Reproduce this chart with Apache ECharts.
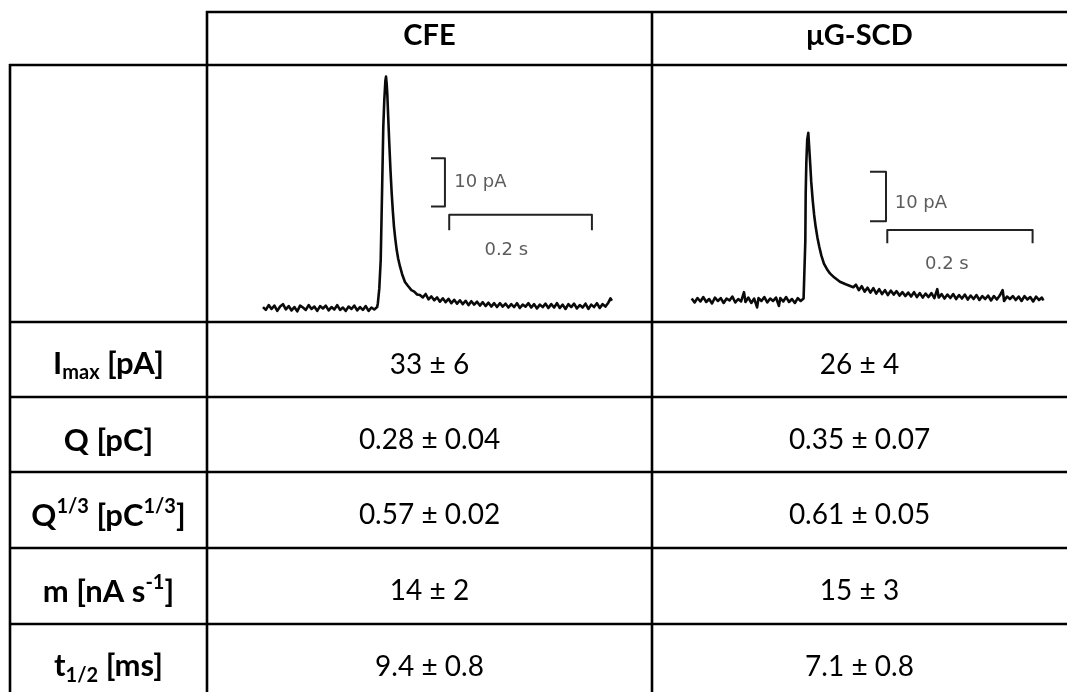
<!DOCTYPE html>
<html>
<head>
<meta charset="utf-8">
<script src="https://cdn.jsdelivr.net/npm/echarts@6/dist/echarts.min.js"></script>
<style>
  html, body { margin: 0; padding: 0; background: #fff; }
  #main { width: 1067px; height: 692px; }
</style>
</head>
<body>
<div id="main"></div>
<script>
// table content
const columns = ['CFE', 'μG-SCD']
const rowLabels = [
  '{b|I}{sub|max}{b| [pA]}',
  '{b|Q [pC]}',
  '{b|Q}{sup|1/3}{b| [pC}{sup|1/3}{b|]}',
  '{b|m [nA s}{sup|-1}{b|]}',
  '{b|t}{sub|1/2}{b| [ms]}'
]
const cfeValues = ['33 ± 6', '0.28 ± 0.04', '0.57 ± 0.02', '14 ± 2', '9.4 ± 0.8']
const scdValues = ['26 ± 4', '0.35 ± 0.07', '0.61 ± 0.05', '15 ± 3', '7.1 ± 0.8']

// example amperometric spikes, [time ms, current pA]
const cfeTrace = [
  [0, 0.2], [4, -0.4], [8, 0.6], [12, -0.2], [16, 0.5], [20, -0.6], [24, 0.3], [28, 0.8],
  [32, -0.3], [36, 0.4], [40, -0.5], [44, 0.2], [48, -0.7], [52, 0.5], [56, 0.1], [60, -0.4],
  [64, 0.6], [68, -0.2], [72, 0.3], [76, -0.6], [80, 0.4], [84, -0.1], [88, 0.5], [92, -0.5],
  [96, 0.2], [100, -0.3], [104, 0.6], [108, -0.4], [112, 0.1], [116, -0.6], [120, 0.3], [124, -0.2],
  [128, 0.5], [132, -0.5], [136, 0.2], [140, -0.4], [144, 0.4], [148, -0.6], [152, 0.1], [156, -0.3],
  [160, 0.2], [161, 1.0], [163, 4], [165, 10], [167, 25], [168.6, 37.5], [170, 43], [171.5, 47],
  [172.4, 47.9], [173.3, 46.5], [174.2, 44.4], [175.5, 39.5], [177, 34.1], [178.7, 28.5], [180.4, 23.7],
  [182, 20], [183.6, 16.8], [185.5, 14.2], [187.4, 12.0], [189.5, 10.2], [192, 8.6], [195, 7.0],
  [199, 5.4], [203, 4.6], [208, 3.7], [212, 3.4], [216, 2.8], [220, 2.7], [224, 2.2], [228, 2.9],
  [232, 1.8], [236, 2.4], [240, 1.6], [244, 2.2], [248, 1.3], [252, 2.0], [256, 1.2], [260, 1.9],
  [264, 1.0], [268, 1.7], [272, 0.9], [276, 1.6], [280, 0.8], [284, 1.5], [288, 0.6], [292, 1.4],
  [296, 0.7], [300, 1.3], [304, 0.5], [308, 1.2], [312, 0.4], [316, 1.1], [320, 0.3], [324, 1.0],
  [328, 0.2], [332, 1.0], [336, 0.3], [340, 0.9], [344, 0.1], [348, 0.8], [352, 0.2], [356, 1.0],
  [360, 0.0], [364, 0.7], [368, 0.3], [372, 1.0], [376, 0.1], [380, 0.8], [384, -0.1], [388, 0.7],
  [392, 0.2], [396, 0.9], [400, 0.0], [404, 0.8], [408, 0.1], [412, 1.0], [416, 0.0], [420, 0.7],
  [424, -0.2], [428, 0.8], [432, 0.2], [436, 0.9], [440, -0.1], [444, 0.6], [448, 0.1], [452, 0.9],
  [456, -0.2], [460, 0.7], [464, 0.2], [468, 1.0], [472, 0.0], [476, 0.8], [480, 0.3], [484, 1.1],
  [487, 2.0], [489, 1.5]
]
const scdTrace = [
  [0, 0.3], [4, -0.5], [8, 0.4], [12, -0.3], [16, 0.6], [20, -0.4], [24, 0.2], [28, -0.7],
  [32, 0.5], [36, -0.2], [40, 0.4], [44, -0.6], [48, 0.3], [52, -0.1], [56, 0.7], [60, -0.5],
  [64, 0.2], [68, -0.3], [72, 1.6], [74, -0.4], [78, 0.5], [82, -0.6], [86, 0.3], [90, -1.5],
  [92, 0.4], [96, -0.2], [100, 0.6], [104, -0.5], [108, 0.3], [112, -0.2], [116, 0.5], [120, -1.2],
  [122, 0.4], [126, -0.3], [130, 0.6], [134, -0.4], [138, 0.2], [142, -0.6], [146, 0.4], [150, -0.2],
  [154, 0.3], [155.9, 0.5], [156.4, 12], [156.9, 21.6], [157.8, 28], [159, 32.5], [160.5, 33.9],
  [161.5, 31.5], [162.8, 28.4], [164.5, 24], [166.5, 20.3], [168.5, 17.3], [170.6, 14.9], [173, 12.7],
  [175.6, 10.8], [178.5, 9.0], [182, 7.4], [186, 6.3], [190.3, 5.4], [196, 4.6], [204, 3.7],
  [212, 3.2], [222.4, 2.6], [226, 3.1], [230, 2.0], [234, 2.8], [238, 1.7], [242, 2.5], [246, 1.5],
  [250, 2.4], [254, 1.3], [258, 2.2], [262, 1.2], [266, 2.0], [270, 1.0], [274, 1.9], [278, 1.1],
  [282, 1.8], [286, 0.9], [290, 1.6], [294, 0.8], [298, 1.5], [302, 0.7], [306, 1.6], [310, 0.6],
  [314, 1.4], [318, 0.5], [322, 1.3], [326, 0.6], [330, 1.4], [334, 0.4], [338, 2.2], [340, 0.5],
  [344, 1.2], [348, 0.3], [352, 1.1], [356, 0.4], [360, 1.2], [364, 0.2], [368, 1.0], [372, 0.3],
  [376, 1.1], [380, 0.1], [384, 0.9], [388, 0.2], [392, 1.0], [396, 0.0], [400, 0.8], [404, 0.2],
  [408, 0.9], [412, -0.1], [416, 0.8], [420, 0.1], [424, 0.9], [428, 2.0], [430, -0.2], [434, 0.7],
  [438, 0.2], [442, 0.8], [446, 0.0], [450, 0.7], [454, -0.2], [458, 0.8], [462, 0.1], [466, 0.6],
  [470, -0.3], [474, 0.7], [478, 0.0], [482, 0.5], [484, -0.1]
]

// scale bars: 10 pA, 0.2 s; anchors are [time ms, current pA] of the bar corners
const barPA = 10
const barMs = 200
const cfeBarV = [255, 21]
const cfeBarH = [261, 19.3]
const scdBarV = [267.4, 16]
const scdBarH = [269.2, 14.2]

// layout (px)
const colX = [10, 207, 652, 1067]
const rowY = [12, 65, 322, 397, 472, 548, 624, 700]
const lineW = 2.6

const chart = echarts.init(document.getElementById('main'))

function bracketV (a, cap) {
  return [[a[0] - cap, a[1] + barPA], [a[0], a[1] + barPA], [a[0], a[1]], [a[0] - cap, a[1]]]
}
function bracketH (a, tick) {
  return [[a[0], a[1] - tick], [a[0], a[1]], [a[0] + barMs, a[1]], [a[0] + barMs, a[1] - tick]]
}

function lineSeries (idx, data, color, width) {
  return {
    type: 'line',
    xAxisIndex: idx,
    yAxisIndex: idx,
    data: data,
    showSymbol: false,
    silent: true,
    clip: false,
    lineStyle: { color: color, width: width, join: 'round' },
    animation: false
  }
}

function textSeries (idx, point, text, pos) {
  return {
    type: 'scatter',
    xAxisIndex: idx,
    yAxisIndex: idx,
    symbolSize: 0,
    silent: true,
    animation: false,
    data: [point],
    label: {
      show: true,
      position: pos,
      distance: 0,
      formatter: text,
      fontFamily: 'DejaVu Sans',
      fontSize: 18,
      color: '#333'
    }
  }
}

const option = {
  backgroundColor: '#fff',
  grid: [
    { left: 263, top: 66.5, width: 349.6, height: 256 },
    { left: 691.7, top: 102.8, width: 356, height: 212 }
  ],
  xAxis: [
    { gridIndex: 0, type: 'value', min: 0, max: 490, show: false },
    { gridIndex: 1, type: 'value', min: 0, max: 490, show: false }
  ],
  yAxis: [
    { gridIndex: 0, type: 'value', min: -3, max: 50, show: false },
    { gridIndex: 1, type: 'value', min: -3, max: 40, show: false }
  ],
  series: [
    lineSeries(0, cfeTrace, '#0a0a0a', 2.6),
    lineSeries(1, scdTrace, '#0a0a0a', 2.6),
    lineSeries(0, bracketV(cfeBarV, 19.5), '#222', 2),
    lineSeries(0, bracketH(cfeBarH, 3.2), '#222', 2),
    lineSeries(1, bracketV(scdBarV, 22), '#222', 2),
    lineSeries(1, bracketH(scdBarH, 2.7), '#222', 2),
    textSeries(0, [cfeBarV[0] + 13, cfeBarV[1] + barPA / 2], '10 pA', 'right'),
    textSeries(0, [cfeBarH[0] + barMs * 0.4, cfeBarH[1] - 7.3], '0.2 s', 'inside'),
    textSeries(1, [scdBarV[0] + 12, scdBarV[1] + barPA / 2 - 1.4], '10 pA', 'right'),
    textSeries(1, [scdBarH[0] + barMs * 0.41, scdBarH[1] - 6.9], '0.2 s', 'inside')
  ],
  graphic: []
}

// table grid lines
const g = option.graphic
function hline (y, x1, x2) {
  g.push({ type: 'line', shape: { x1: x1, y1: y, x2: x2, y2: y }, style: { stroke: '#000', lineWidth: lineW }, silent: true })
}
function vline (x, y1, y2) {
  g.push({ type: 'line', shape: { x1: x, y1: y1, x2: x, y2: y2 }, style: { stroke: '#000', lineWidth: lineW }, silent: true })
}
hline(rowY[0], colX[1] - 1, colX[3])
for (let i = 1; i < rowY.length - 1; i++) hline(rowY[i], colX[0] - 1, colX[3])
vline(colX[0], rowY[1] - 1, 692)
vline(colX[1], rowY[0] - 1, 692)
vline(colX[2], rowY[0] - 1, 692)

const bodyFont = 'Lato, "Open Sans", sans-serif'
function cellText (x, y, text, bold, size) {
  g.push({
    type: 'text', silent: true,
    style: { x: x, y: y, text: text, align: 'center', verticalAlign: 'middle', fill: '#000',
      fontFamily: bodyFont, fontWeight: bold ? 'bold' : 'normal', fontSize: size }
  })
}
columns.forEach(function (c, i) {
  cellText((colX[i + 1] + colX[i + 2]) / 2, (rowY[0] + rowY[1]) / 2 - 3, c, true, 29)
})
const labelRich = {
  b: { fontFamily: bodyFont, fontWeight: 'bold', fontSize: 31, fill: '#000', verticalAlign: 'top', padding: [4, 0, 0, 0] },
  sub: { fontFamily: bodyFont, fontWeight: 'bold', fontSize: 20, fill: '#000', verticalAlign: 'top', padding: [19, 0, 0, 0] },
  sup: { fontFamily: bodyFont, fontWeight: 'bold', fontSize: 20, fill: '#000', verticalAlign: 'top', padding: [0, 0, 0, 0] }
}
for (let r = 0; r < rowLabels.length; r++) {
  const cy = (rowY[r + 2] + rowY[r + 3]) / 2 + 4
  g.push({
    type: 'text', silent: true,
    style: { x: (colX[0] + colX[1]) / 2, y: cy, text: rowLabels[r], align: 'center', verticalAlign: 'middle', rich: labelRich }
  })
  cellText((colX[1] + colX[2]) / 2, cy + 1, cfeValues[r], false, 28)
  cellText((colX[2] + colX[3]) / 2, cy + 1, scdValues[r], false, 28)
}

chart.setOption(option)
</script>
</body>
</html>
